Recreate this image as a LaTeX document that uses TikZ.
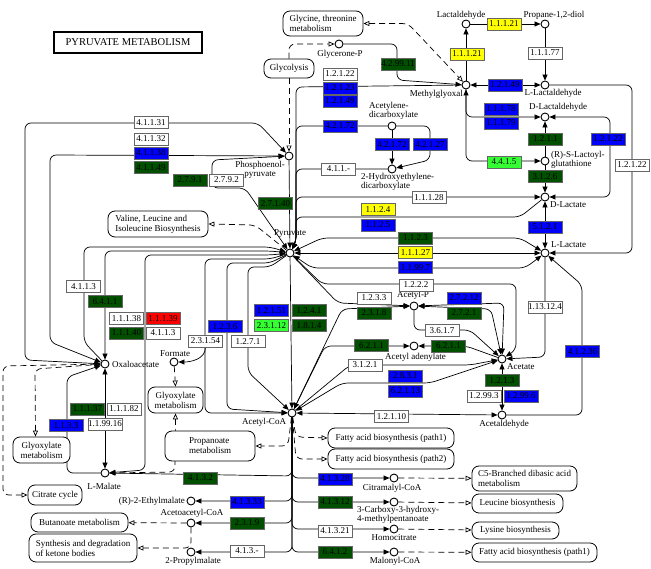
\documentclass[tikz,border=0pt]{standalone}
\usepackage{fontspec}
\setmainfont{Liberation Serif}
\usetikzlibrary{arrows.meta,positioning,calc}
\definecolor{keggblue}{RGB}{0,0,255}
\definecolor{keggdgreen}{RGB}{0,80,0}
\definecolor{kegglgreen}{RGB}{51,255,51}
\definecolor{keggyellow}{RGB}{255,255,0}
\definecolor{keggred}{RGB}{255,0,0}
\pgfdeclarelayer{bg}
\pgfsetlayers{bg,main}
\tikzset{
  cpd/.style={circle, draw, line width=0.9pt, fill=white, minimum size=8pt, inner sep=0pt},
  lbl/.style={font=\fontsize{9}{9.5}\selectfont, inner sep=0pt, align=center},
  ec/.style={draw=black!60, line width=0.5pt, minimum width=34pt, minimum height=12pt, inner sep=0pt, font=\fontsize{9}{9}\selectfont},
  ecw/.style={ec, fill=white},
  ecb/.style={ec, fill=keggblue},
  ecg/.style={ec, fill=keggdgreen},
  ecl/.style={ec, fill=kegglgreen},
  ecy/.style={ec, fill=keggyellow},
  ecr/.style={ec, fill=keggred},
  pmap/.style={draw, line width=0.8pt, rounded corners=7pt, fill=white, inner sep=0pt, align=left, font=\fontsize{9}{10}\selectfont},
  rx/.style={draw, line width=0.7pt, rounded corners=6pt},
  mapl/.style={draw, line width=0.7pt, dash pattern=on 6pt off 4pt, rounded corners=6pt},
  mapend/.style={-{Triangle[open,length=6pt,width=5pt]}},
  mapboth/.style={{Triangle[open,length=6pt,width=5pt]}-{Triangle[open,length=6pt,width=5pt]}},
  >={Triangle[length=6pt,width=5pt]},
}
\begin{document}
\begin{tikzpicture}[x=1pt,y=-1pt]
\useasboundingbox (0,0) rectangle (651,569);
% title
\node[draw, line width=1.6pt, minimum width=148pt, minimum height=21pt, font=\fontsize{10.5}{11}\selectfont] (ttl) at (128,42.5) {PYRUVATE METABOLISM};

% pathway maps
\node[pmap, minimum width=80pt, minimum height=25pt] (glyt) at (323,23.5) {Glycine, threonine\\metabolism};
\node[pmap, minimum width=50pt, minimum height=19pt] (glyc) at (289,68.5) {Glycolysis};
\node[pmap, minimum width=100pt, minimum height=26pt] (vli) at (158,224) {Valine, Leucine and\\Isoleucine Biosynthesis};
\node[pmap, align=center, minimum width=55pt, minimum height=26pt] (glx1) at (175.5,400) {Glyoxylate\\metabolism};
\node[pmap, align=center, minimum width=57pt, minimum height=26pt] (glx2) at (41.5,450) {Glyoxylate\\metabolism};
\node[pmap, minimum width=54pt, minimum height=20pt] (tca) at (55,495) {Citrate cycle};
\node[pmap, minimum width=97pt, minimum height=19pt] (buta) at (79.5,522.5) {Butanoate metabolism};
\node[pmap, minimum width=108pt, minimum height=28pt] (keto) at (83,548) {Synthesis and degradation\\of ketone bodies};
\node[pmap, minimum width=90pt, minimum height=30pt] (prop) at (210,446) {Propanoate\\metabolism};
\node[pmap, minimum width=126pt, minimum height=20pt] (fab1) at (391,438) {Fatty acid biosynthesis (path1)};
\node[pmap, minimum width=126pt, minimum height=20pt] (fab2) at (391,459) {Fatty acid biosynthesis (path2)};
\node[pmap, minimum width=105pt, minimum height=25pt] (c5) at (524.5,478.5) {C5-Branched dibasic acid\\metabolism};
\node[pmap, minimum width=91pt, minimum height=19pt] (leu) at (517.5,503.5) {Leucine biosynthesis};
\node[pmap, minimum width=87pt, minimum height=17pt] (lys) at (515.5,530.5) {Lysine biosynthesis};
\node[pmap, minimum width=125pt, minimum height=19pt] (fab3) at (534.5,552.5) {Fatty acid biosynthesis (path1)};

% compounds
\node[cpd] (glp) at (339,44) {};
\node[lbl] (glpL) at (340,54) {Glycerone-P};
\node[cpd] (mgo) at (466,85) {};
\node[lbl, anchor=east] (mgoL) at (463,94) {Methylglyoxal};
\node[cpd] (lald) at (466,24) {};
\node[lbl] (laldL) at (461,15) {Lactaldehyde};
\node[cpd] (ppd) at (545,24) {};
\node[lbl] (ppdL) at (554,15) {Propane-1,2-diol};
\node[cpd] (llald) at (545,85) {};
\node[lbl] (llaldL) at (553,93) {L-Lactaldehyde};
\node[cpd] (dlald) at (545,117) {};
\node[lbl] (dlaldL) at (558,107) {D-Lactaldehyde};
\node[cpd] (lgsh) at (545,161) {};
\node[lbl, anchor=west, align=left] (lgshL) at (551,160) {(R)-S-Lactoyl-\\glutathione};
\node[cpd] (dlac) at (545,197) {};
\node[lbl, anchor=west] (dlacL) at (550,205) {D-Lactate};
\node[cpd] (llac) at (545,253) {};
\node[lbl, anchor=west] (llacL) at (551,245) {L-Lactate};
\node[cpd] (adc) at (392,126) {};
\node[lbl, anchor=west, align=left] (adcL) at (369,111) {Acetylene-\\dicarboxylate};
\node[cpd] (hedc) at (392,169) {};
\node[lbl, anchor=west, align=left] (hedcL) at (361,182) {2-Hydroxyethylene-\\dicarboxylate};
\node[cpd] (pep) at (289,156) {};
\node[lbl] (pepL) at (260,170) {Phosphoenol-\\pyruvate};
\node[cpd] (pyr) at (290,253) {};
\node[lbl] (pyrL) at (290,234) {Pyruvate};
\node[cpd] (acp) at (414,306) {};
\node[lbl] (acpL) at (413,295) {Acetyl-P};
\node[cpd] (acad) at (414,346) {};
\node[lbl, anchor=west] (acadL) at (385,357) {Acetyl adenylate};
\node[cpd] (ac) at (502,359) {};
\node[lbl, anchor=west] (acL) at (507,367) {Acetate};
\node[cpd] (acald) at (502,415) {};
\node[lbl] (acaldL) at (504,424) {Acetaldehyde};
\node[cpd] (accoa) at (292,413) {};
\node[lbl] (accoaL) at (264,422) {Acetyl-CoA};
\node[cpd] (oaa) at (105,364) {};
\node[lbl, anchor=west] (oaaL) at (112,364) {Oxaloacetate};
\node[cpd] (fmt) at (174,362) {};
\node[lbl] (fmtL) at (175,354) {Formate};
\node[cpd] (mal) at (105,473) {};
\node[lbl] (malL) at (104,486) {L-Malate};
\node[cpd] (etm) at (191,501) {};
\node[lbl, anchor=east] (etmL) at (185,501) {(R)-2-Ethylmalate};
\node[cpd] (aacoa) at (191,523) {};
\node[lbl] (aacoaL) at (192,513) {Acetoacetyl-CoA};
\node[cpd] (prm) at (191,552) {};
\node[lbl] (prmL) at (193,561) {2-Propylmalate};
\node[cpd] (cmc) at (394,478) {};
\node[lbl] (cmcL) at (392,488) {Citramalyl-CoA};
\node[cpd] (chm) at (394,502) {};
\node[lbl, anchor=west, align=left] (chmL) at (357,515) {3-Carboxy-3-hydroxy-\\4-methylpentanoate};
\node[cpd] (hcit) at (394,529) {};
\node[lbl] (hcitL) at (394,538) {Homocitrate};
\node[cpd] (mcoa) at (394,552) {};
\node[lbl] (mcoaL) at (395,561) {Malonyl-CoA};

% enzymes
\node[ecg] (e429911) at (398,64) {4.2.99.11};
\node[ecw] (e12122a) at (340,74) {1.2.1.22};
\node[ecb] (e12123) at (340,88) {1.2.1.23};
\node[ecb] (e12149a) at (340,101) {1.2.1.49};
\node[ecb] (e42172a) at (340,126) {4.2.1.72};
\node[ecb] (e42172b) at (392,144.5) {4.2.1.72};
\node[ecb] (e42127) at (430,144.5) {4.2.1.27};
\node[ecy] (e11121a) at (504,24) {1.1.1.21};
\node[ecy] (e11121b) at (467,54) {1.1.1.21};
\node[ecw] (e11177) at (545,53) {1.1.1.77};
\node[ecb] (e12149b) at (505,85) {1.2.1.49};
\node[ecb] (e11178) at (501,109) {1.1.1.78};
\node[ecb] (e11179) at (501,123) {1.1.1.79};
\node[ecg] (e1211) at (545.5,139) {1.2.1.1};
\node[ecb] (e12122b) at (608,139) {1.2.1.22};
\node[ecw] (e12122c) at (632,165) {1.2.1.22};
\node[ecl] (e4415) at (504,162) {4.4.1.5};
\node[ecg] (e3126) at (545,176.5) {3.1.2.6};
\node[ecb] (e5121) at (545,227) {5.1.2.1};
\node[ecw] (e11128) at (429,197.5) {1.1.1.28};
\node[ecy] (e1124) at (378,209.5) {1.1.2.4};
\node[ecb] (e1125) at (378,225) {1.1.2.5};
\node[ecg] (e1123) at (415.5,238) {1.1.2.3};
\node[ecy] (e11127) at (415.5,252.5) {1.1.1.27};
\node[ecb] (e11997) at (415.5,267.5) {1.1.99.7};
\node[ecw] (e1222) at (416,285) {1.2.2.2};
\node[ecw] (e411x) at (338.5,169) {4.1.1.-};
\node[ecg] (e27140) at (275.5,203.5) {2.7.1.40};
\node[ecg] (e2791) at (190,180) {2.7.9.1};
\node[ecw] (e2792) at (226.5,180) {2.7.9.2};
\node[ecw] (e41131) at (151,122.5) {4.1.1.31};
\node[ecw] (e41132) at (151,139) {4.1.1.32};
\node[ecb] (e41138) at (151,153) {4.1.1.38};
\node[ecg] (e41149) at (151,167.5) {4.1.1.49};
\node[ecw] (e4113a) at (83.5,286.5) {4.1.1.3};
\node[ecg] (e6411) at (105,301.5) {6.4.1.1};
\node[ecw] (e11138) at (126.5,318.5) {1.1.1.38};
\node[ecr] (e11139) at (163,318.5) {1.1.1.39};
\node[ecg] (e11140) at (126.5,333) {1.1.1.40};
\node[ecw] (e4113b) at (163,333) {4.1.1.3};
\node[ecg] (e11137) at (87.5,409) {1.1.1.37};
\node[ecw] (e11182) at (124,409) {1.1.1.82};
\node[ecb] (e1133) at (66,425.5) {1.1.3.3};
\node[ecw] (e119916) at (105,424) {1.1.99.16};
\node[ecb] (e12151) at (271.5,310.5) {1.2.1.51};
\node[ecl] (e23112) at (271.5,325.5) {2.3.1.12};
\node[ecg] (e1241) at (309,310.5) {1.2.4.1};
\node[ecg] (e1814) at (309,325.5) {1.8.1.4};
\node[ecb] (e1236) at (225,326.5) {1.2.3.6};
\node[ecw] (e23154) at (205.5,341) {2.3.1.54};
\node[ecw] (e1271) at (248,341.5) {1.2.7.1};
\node[ecw] (e1233) at (374,298) {1.2.3.3};
\node[ecg] (e2318) at (374,313) {2.3.1.8};
\node[ecb] (e27212) at (464,298) {2.7.2.12};
\node[ecg] (e2721) at (464,313) {2.7.2.1};
\node[ecw] (e3617) at (442,330.5) {3.6.1.7};
\node[ecg] (e6211a) at (371.5,345.5) {6.2.1.1};
\node[ecg] (e6211b) at (448.5,346) {6.2.1.1};
\node[ecw] (e3121) at (365,365) {3.1.2.1};
\node[ecb] (e2831) at (405.5,376) {2.8.3.1};
\node[ecb] (e62113) at (405.5,391) {6.2.1.13};
\node[ecw] (e12110) at (391.5,416.5) {1.2.1.10};
\node[ecg] (e1213) at (502,380.5) {1.2.1.3};
\node[ecw] (e12993) at (484,396) {1.2.99.3};
\node[ecb] (e12996) at (521,396) {1.2.99.6};
\node[ecw] (e113124) at (545,307) {1.13.12.4};
\node[ecb] (e41236) at (582.5,351.5) {4.1.2.36};
\node[ecg] (e4132) at (200.5,478) {4.1.3.2};
\node[ecb] (e41328) at (335,479) {4.1.3.28};
\node[ecb] (e41333) at (247,502) {4.1.3.33};
\node[ecg] (e41312) at (335,502) {4.1.3.12};
\node[ecg] (e2319) at (247,523) {2.3.1.9};
\node[ecw] (e41321) at (335,531) {4.1.3.21};
\node[ecw] (e413x) at (247,551) {4.1.3.-};
\node[ecg] (e6412) at (335,552) {6.4.1.2};

\begin{pgfonlayer}{bg}
% methylglyoxal and lactate branch
\draw[rx,->] (glp) -- (397,44) -- (397,80) -- (mgo);
\draw[mapl,mapboth] (glyt.east) -- (408,23.5) -- (mgo);
\draw[mapl,mapend] (glyc.north) -- (289,44) -- (glp);
\draw[mapl,mapend] (glyc.south) -- (pep);
\draw[rx,->] (mgo) -- (lald);
\draw[rx,->] (lald) -- (ppd);
\draw[rx,->] (ppd) -- (llald);
\draw[rx,<->] (mgo) -- (llald);
\draw[rx,->] (llald) -- (632,85) -- (632,253) -- (llac);
\draw[rx,<->] (dlald) -- (610,117) -- (610,197) -- (dlac);
\draw[rx,<->] (mgo) -- (466,117) -- (dlald);
\draw[rx,->] (mgo) -- (466,161) -- (lgsh);
\draw[rx,->] (lgsh) -- (dlald);
\draw[rx,->] (lgsh) -- (dlac);
\draw[rx,<->] (dlac) -- (llac);
% into pyruvate from above
\draw[rx,->] (mgo) -- (296,87) -- (296,242) -- (pyr);
\draw[rx,->] (adc) -- (296,126) -- (296,242) -- (pyr);
\draw[rx,->] (adc) -- (hedc);
\draw[rx,->] (adc) -- (430,126) -- (430,160) -- (hedc);
\draw[rx,->] (hedc) -- (296,169) -- (296,242) -- (pyr);
\draw[rx,<->] (dlac) -- (296,197) -- (296,242) -- (pyr);
\draw[rx,->] (dlac) -- (520,217) -- (296,217) -- (296,242) -- (pyr);
% phosphoenolpyruvate
\draw[rx,->] (pep) -- (pyr);
\draw[rx,<->] (oaa) -- (25,360) -- (25,123) -- (258,123) -- (pep);
\draw[rx,<->] (oaa) -- (50,342) -- (50,155) -- (pep);
\draw[rx,<->] (pep) -- (212,160) -- (212,188) -- (245,188) -- (pyr);
\draw[mapl,mapend] (pyr) -- (255,225) -- (vli.east);
% left loops into pyruvate
\draw[rx,->] (oaa) -- (84,342) -- (84,247) -- (270,247) -- (pyr);
\draw[rx,->] (pyr) -- (270,251) -- (105,251) -- (oaa);
\draw[rx,<->] (mal) -- (145,470) -- (145,255) -- (270,255) -- (pyr);
\draw[rx,->] (pyr) -- (270,259) -- (205,259) -- (205,413) -- (accoa);
\draw[rx,->] (pyr) -- (270,263) -- (227,263) -- (227,409) -- (accoa);
\draw[rx,->] (pyr) -- (270,267) -- (248,267) -- (248,372) -- (accoa);
% L-lactate to pyruvate
\draw[rx,<->] (llac) -- (520,238) -- (322,238) -- (pyr);
\draw[rx,<->] (llac) -- (pyr);
\draw[rx,<->] (llac) -- (525,268) -- (312,268) -- (pyr);
% acetyl-CoA, acetyl-P, acetate
\draw[rx,->] (pyr) -- (accoa);
\draw[rx,->] (pyr) -- (322,284) -- (516,284) -- (516,350) -- (ac);
\draw[rx,->] (pyr) -- (338,303) -- (acp);
\draw[rx,<->] (accoa) -- (342,309) -- (acp);
\draw[rx,<->] (acp) -- (504,303) -- (ac);
\draw[rx,<->] (acp) -- (491,309) -- (ac);
\draw[rx,->] (acp) -- (414,330) -- (470,330) -- (ac);
\draw[rx,->] (ac) -- (466,346) -- (acad);
\draw[rx,<->] (acad) -- (325,346) -- (accoa);
\draw[rx,->] (accoa) -- (350,365) -- (470,365) -- (ac);
\draw[rx,<->] (accoa) -- (342,383) -- (430,383) -- (ac);
\draw[rx,<->] (acald) -- (accoa);
\draw[rx,<->] (acald) -- (ac);
\draw[rx,<-] (llac) -- (582,285) -- (582,415) -- (acald);
\draw[rx,->] (llac) -- (545,357) -- (ac);
% formate, malate, oxaloacetate
\draw[rx,->] (e23154.south) to[out=-90,in=0] (fmt);
\draw[mapl,mapend] (fmt) -- (glx1.north);
\draw[mapl,mapend] (mal) -- (175,472) -- (glx1.south);
\draw[rx,<->] (mal) -- (oaa);
\draw[rx,->] (mal) -- (67,473) -- (67,377) -- (oaa);
\draw[mapl,mapboth] ($(glx2.north)+(-6,0)$) -- (35,369) -- (oaa);
\draw[mapl,mapboth] (tca.west) -- (3,495) -- (3,366) -- (oaa);
% acetyl-CoA branches
\draw[mapl,mapend] (accoa) -- (296,437) -- (fab1.west);
\draw[mapl,mapend] (accoa) -- (296,459) -- (fab2.west);
\draw[mapl,mapend] (accoa) -- (288,446) -- (prop.east);
\draw[rx,->] (accoa) -- (292,476) -- (mal);
\draw[rx,->] (accoa) -- (292,478) -- (cmc);
\draw[rx,->] (accoa) -- (292,501) -- (etm);
\draw[rx,->] (accoa) -- (292,502) -- (chm);
\draw[rx,->] (accoa) -- (292,523) -- (aacoa);
\draw[rx,->] (accoa) -- (292,529) -- (hcit);
\draw[rx,->] (accoa) -- (292,552) -- (prm);
\draw[rx,->] (accoa) -- (292,552) -- (mcoa);
\draw[mapl,mapend] (cmc) -- (c5);
\draw[mapl,mapend] (chm) -- (leu);
\draw[mapl,mapend] (hcit) -- (lys);
\draw[mapl,mapend] (mcoa) -- (fab3);
\draw[mapl,mapend] (aacoa) -- (buta);
\draw[mapl,mapend] (aacoa) -- (191,548) -- (keto.east);
\end{pgfonlayer}
\end{tikzpicture}
\end{document}
